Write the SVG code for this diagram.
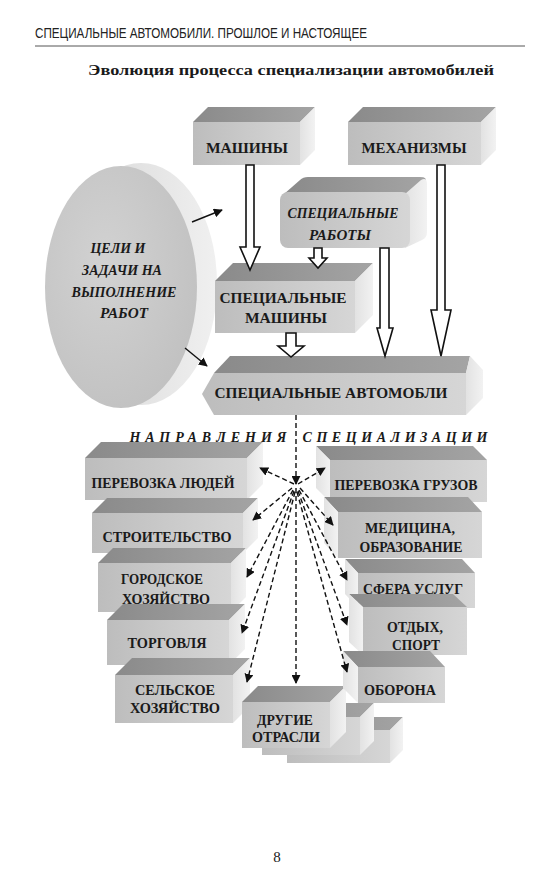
<svg xmlns="http://www.w3.org/2000/svg" width="552" height="876" viewBox="0 0 552 876">
<style>
.lbl{font-family:"Liberation Serif","Times New Roman",serif;font-weight:bold;font-size:14px;fill:#1a1a1a;text-anchor:middle}
.it{font-style:italic}
.top{fill:url(#gTop)}
.side{fill:url(#gSide)}
.front{fill:url(#gFront)}
.hollow{fill:#fff;stroke:#111;stroke-width:1.6;stroke-linejoin:miter}
.dash{fill:none;stroke:#111;stroke-width:1.4;stroke-dasharray:5 3;marker-end:url(#ah)}
.solid{fill:none;stroke:#111;stroke-width:1.4;marker-end:url(#ah)}
</style>
<defs>
<linearGradient id="gFront" x1="0" y1="0" x2="1" y2="0"><stop offset="0" stop-color="#bdbdbd"/><stop offset="1" stop-color="#d6d6d6"/></linearGradient>
<linearGradient id="gTop" x1="0" y1="0" x2="1" y2="0"><stop offset="0" stop-color="#8a8a8a"/><stop offset="1" stop-color="#a4a4a4"/></linearGradient>
<linearGradient id="gSide" x1="0" y1="0" x2="1" y2="0"><stop offset="0" stop-color="#e2e2e2"/><stop offset="1" stop-color="#f2f2f2"/></linearGradient>
<radialGradient id="gEll" cx="0.4" cy="0.4" r="0.7"><stop offset="0" stop-color="#d2d2d2"/><stop offset="1" stop-color="#c0c0c0"/></radialGradient>
<linearGradient id="gEllSide" x1="0" y1="0" x2="1" y2="0"><stop offset="0" stop-color="#d6d6d6"/><stop offset="1" stop-color="#f0f0f0"/></linearGradient>
<marker id="ah" viewBox="0 0 10 10" refX="9" refY="5" markerWidth="9" markerHeight="9" markerUnits="userSpaceOnUse" orient="auto"><path d="M0,0 L10,5 L0,10 z" fill="#111"/></marker>
</defs>
<rect width="552" height="876" fill="#fff"/>

<g id="header">
<text x="35" y="38" font-family="'Liberation Sans',Arial,sans-serif" font-size="15" fill="#222" textLength="332" lengthAdjust="spacingAndGlyphs">СПЕЦИАЛЬНЫЕ АВТОМОБИЛИ. ПРОШЛОЕ И НАСТОЯЩЕЕ</text>
<line x1="35" y1="46" x2="525" y2="46" stroke="#555" stroke-width="1"/>
<text x="291" y="75" font-family="'Liberation Serif','Times New Roman',serif" font-weight="bold" font-size="15.5" fill="#1a1a1a" text-anchor="middle" textLength="406" lengthAdjust="spacingAndGlyphs">Эволюция процесса специализации автомобилей</text>
</g>

<g id="node-mashiny">
<polygon class="top" points="193,122 208,107 315,107 300,122"/>
<polygon class="side" points="300,122 315,107 315,150 300,165"/>
<rect class="front" x="193" y="122" width="107" height="43"/>
<text class="lbl" x="247" y="153" textLength="82" lengthAdjust="spacingAndGlyphs">МАШИНЫ</text>
</g>

<g id="node-mehanizmy">
<polygon class="top" points="348,122 363,107 496,107 481,122"/>
<polygon class="side" points="481,122 496,107 496,150 481,165"/>
<rect class="front" x="348" y="122" width="133" height="43"/>
<text class="lbl" x="414" y="153" textLength="105" lengthAdjust="spacingAndGlyphs">МЕХАНИЗМЫ</text>
</g>

<g id="node-spec-raboty">
<path class="top" d="M284,194 L300,180 Q303,177 308,177 L420,177 Q428,177 425,182 L410,196 Z"/>
<path class="side" d="M405,194 L421,180 Q427,177 427,184 L427,232 Q427,238 422,240 L405,248 Z"/>
<rect class="front" x="280" y="192" width="130" height="56" rx="8" ry="8"/>
<text class="lbl it" x="343" y="218" textLength="111" lengthAdjust="spacingAndGlyphs">СПЕЦИАЛЬНЫЕ</text>
<text class="lbl it" x="340" y="240" textLength="62" lengthAdjust="spacingAndGlyphs">РАБОТЫ</text>
</g>

<g id="node-celi">
<ellipse cx="141" cy="284" rx="76" ry="121" fill="url(#gEllSide)"/>
<ellipse cx="121" cy="287" rx="76" ry="121" fill="url(#gEll)"/>
<text class="lbl it" x="118" y="253" textLength="55" lengthAdjust="spacingAndGlyphs">ЦЕЛИ И</text>
<text class="lbl it" x="122" y="275" textLength="80" lengthAdjust="spacingAndGlyphs">ЗАДАЧИ НА</text>
<text class="lbl it" x="124" y="297" textLength="105" lengthAdjust="spacingAndGlyphs">ВЫПОЛНЕНИЕ</text>
<text class="lbl it" x="124" y="318" textLength="48" lengthAdjust="spacingAndGlyphs">РАБОТ</text>
</g>

<g id="node-spec-mashiny">
<polygon class="top" points="215,281 233,263 373,263 355,281"/>
<polygon class="side" points="355,281 373,263 373,315 355,333"/>
<rect class="front" x="215" y="281" width="140" height="52"/>
<text class="lbl" x="283" y="303" textLength="127" lengthAdjust="spacingAndGlyphs">СПЕЦИАЛЬНЫЕ</text>
<text class="lbl" x="286" y="323" textLength="82" lengthAdjust="spacingAndGlyphs">МАШИНЫ</text>
</g>

<g id="node-spec-avto">
<polygon class="top" points="214,373 230,356 470,356 466,373"/>
<polygon class="side" points="466,373 470,356 483,370 483,398 466,415"/>
<polygon class="front" points="202,394 214,373 466,373 466,415 214,415"/>
<text class="lbl" x="331" y="398" textLength="233" lengthAdjust="spacingAndGlyphs">СПЕЦИАЛЬНЫЕ АВТОМОБЛИ</text>
</g>

<g id="heading-napr">
<text class="lbl it" x="208" y="442" font-size="14.5" textLength="157" lengthAdjust="spacing">НАПРАВЛЕНИЯ</text>
<text class="lbl it" x="395" y="442" font-size="14.5" textLength="185" lengthAdjust="spacing">СПЕЦИАЛИЗАЦИИ</text>
</g>

<g id="node-lyudi">
<polygon class="top" points="85,458 101,442 263,442 247,458"/>
<polygon class="side" points="247,458 263,442 263,484 247,500"/>
<rect class="front" x="85" y="458" width="162" height="42"/>
<text class="lbl" x="163" y="488" textLength="143" lengthAdjust="spacingAndGlyphs">ПЕРЕВОЗКА ЛЮДЕЙ</text>
</g>
<g id="node-stroit">
<polygon class="top" points="92,513 107,498 258,498 243,513"/>
<polygon class="side" points="243,513 258,498 258,538 243,553"/>
<rect class="front" x="92" y="513" width="151" height="40"/>
<text class="lbl" x="167" y="542" textLength="129" lengthAdjust="spacingAndGlyphs">СТРОИТЕЛЬСТВО</text>
</g>
<g id="node-gorod">
<polygon class="top" points="98,563 113,548 246,548 231,563"/>
<polygon class="side" points="231,563 246,548 246,597 231,612"/>
<rect class="front" x="98" y="563" width="133" height="49"/>
<text class="lbl" x="162" y="584" textLength="82" lengthAdjust="spacingAndGlyphs">ГОРОДСКОЕ</text>
<text class="lbl" x="166" y="604" textLength="88" lengthAdjust="spacingAndGlyphs">ХОЗЯЙСТВО</text>
</g>
<g id="node-torg">
<polygon class="top" points="107,620 123,604 245,604 229,620"/>
<polygon class="side" points="229,620 245,604 245,649 229,665"/>
<rect class="front" x="107" y="620" width="122" height="45"/>
<text class="lbl" x="167" y="648" textLength="79" lengthAdjust="spacingAndGlyphs">ТОРГОВЛЯ</text>
</g>
<g id="node-selsk">
<polygon class="top" points="115,675 132,658 250,658 233,675"/>
<polygon class="side" points="233,675 250,658 250,706 233,723"/>
<rect class="front" x="115" y="675" width="118" height="48"/>
<text class="lbl" x="175" y="695" textLength="80" lengthAdjust="spacingAndGlyphs">СЕЛЬСКОЕ</text>
<text class="lbl" x="175" y="713" textLength="90" lengthAdjust="spacingAndGlyphs">ХОЗЯЙСТВО</text>
</g>

<g id="node-drugie">
<polygon class="top" points="287,730 300,717 403,717 390,730"/>
<polygon class="side" points="390,730 403,717 403,750 390,763"/>
<rect class="front" x="287" y="730" width="103" height="33"/>
<polygon class="top" points="262,717 276,703 374,703 360,717"/>
<polygon class="side" points="360,717 374,703 374,741 360,755"/>
<rect class="front" x="262" y="717" width="98" height="38"/>
<polygon class="top" points="242,702 258,686 346,686 330,702"/>
<polygon class="side" points="330,702 346,686 346,732 330,748"/>
<rect class="front" x="242" y="702" width="88" height="46"/>
<text class="lbl" x="285" y="725" textLength="56" lengthAdjust="spacingAndGlyphs">ДРУГИЕ</text>
<text class="lbl" x="286" y="742" textLength="68" lengthAdjust="spacingAndGlyphs">ОТРАСЛИ</text>
</g>

<g id="node-gruzy">
<polygon class="top" points="330,460 316,446 473,446 487,460"/>
<polygon class="side" points="330,460 316,446 316,488 330,502"/>
<rect class="front" x="330" y="460" width="157" height="42"/>
<text class="lbl" x="406" y="490" textLength="143" lengthAdjust="spacingAndGlyphs">ПЕРЕВОЗКА ГРУЗОВ</text>
</g>
<g id="node-medic">
<polygon class="top" points="338,512 324,497 468,497 482,512"/>
<polygon class="side" points="338,512 324,497 324,543 338,558"/>
<rect class="front" x="338" y="512" width="144" height="46"/>
<text class="lbl" x="410" y="533" textLength="90" lengthAdjust="spacingAndGlyphs">МЕДИЦИНА,</text>
<text class="lbl" x="411" y="552" textLength="103" lengthAdjust="spacingAndGlyphs">ОБРАЗОВАНИЕ</text>
</g>
<g id="node-sfera">
<polygon class="top" points="358,573 345,559 462,559 475,573"/>
<polygon class="side" points="358,573 345,559 345,594 358,608"/>
<rect class="front" x="358" y="573" width="117" height="35"/>
<text class="lbl" x="413" y="594" textLength="100" lengthAdjust="spacingAndGlyphs">СФЕРА УСЛУГ</text>
</g>
<g id="node-otdyh">
<polygon class="top" points="363,607 349,594 453,594 467,607"/>
<polygon class="side" points="363,607 349,594 349,642 363,655"/>
<rect class="front" x="363" y="607" width="104" height="48"/>
<text class="lbl" x="415" y="632" textLength="56" lengthAdjust="spacingAndGlyphs">ОТДЫХ,</text>
<text class="lbl" x="416" y="650" textLength="48" lengthAdjust="spacingAndGlyphs">СПОРТ</text>
</g>
<g id="node-oborona">
<polygon class="top" points="358,667 343,651 430,651 445,667"/>
<polygon class="side" points="358,667 343,651 343,688 358,703"/>
<rect class="front" x="358" y="667" width="87" height="36"/>
<text class="lbl" x="400" y="695" textLength="72" lengthAdjust="spacingAndGlyphs">ОБОРОНА</text>
</g>

<g id="connectors">
<polygon class="hollow" points="246,165 254,165 254,247 260,247 250,270 240,247 246,247"/>
<polygon class="hollow" points="314,248 322,248 322,258 327,258 318,268 309,258 314,258"/>
<polygon class="hollow" points="380,248 389,248 389,328 393,328 385,356 377,328 380,328"/>
<polygon class="hollow" points="437,165 445,165 445,310 451,310 441,356 431,310 437,310"/>
<polygon class="hollow" points="286,333 296,333 296,346 304,346 291,357 278,346 286,346"/>
<line class="solid" x1="192" y1="222" x2="222" y2="210"/>
<line class="solid" x1="185" y1="348" x2="207" y2="366"/>
<line class="dash" x1="296" y1="415" x2="296" y2="484"/>
<line class="dash" x1="296" y1="488" x2="296" y2="683"/>
<line class="dash" x1="294" y1="484" x2="260" y2="468"/>
<line class="dash" x1="298" y1="484" x2="325" y2="468"/>
<line class="dash" x1="292" y1="488" x2="253" y2="520"/>
<line class="dash" x1="300" y1="488" x2="333" y2="525"/>
<line class="dash" x1="293" y1="490" x2="247" y2="577"/>
<line class="dash" x1="299" y1="490" x2="347" y2="580"/>
<line class="dash" x1="294" y1="491" x2="242" y2="633"/>
<line class="dash" x1="298" y1="491" x2="347" y2="625"/>
<line class="dash" x1="295" y1="492" x2="247" y2="682"/>
<line class="dash" x1="297" y1="492" x2="347" y2="672"/>
</g>

<text x="277" y="862" font-family="'Liberation Serif','Times New Roman',serif" font-size="15" fill="#222" text-anchor="middle">8</text>
</svg>
